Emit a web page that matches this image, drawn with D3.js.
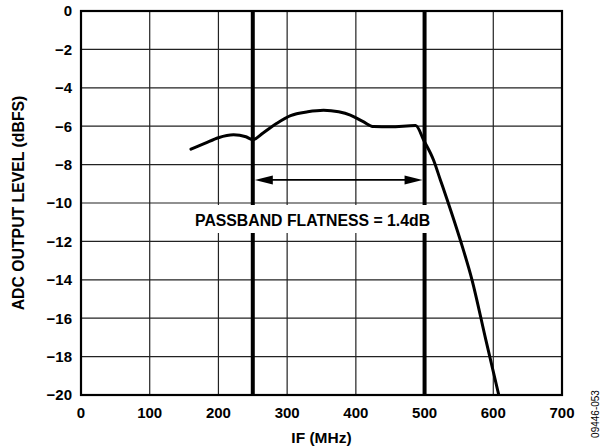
<!DOCTYPE html>
<html>
<head>
<meta charset="utf-8">
<script src="https://cdn.jsdelivr.net/npm/d3@7"></script>
<style>
  body { margin: 0; background: #fff; }
  text { font-family: Arial, "Liberation Sans", sans-serif; font-weight: bold; fill: #000; }
</style>
</head>
<body>
<script>
// Data
let freqMHz = [160, 180, 200, 222, 240, 250, 265, 285, 305, 330, 353, 375, 392, 410, 426, 450, 487, 499, 513, 523, 533, 552, 569, 589, 608];
let levelDBFS = [-7.2, -6.9, -6.6, -6.45, -6.55, -6.7, -6.35, -5.85, -5.45, -5.25, -5.17, -5.25, -5.42, -5.75, -6.02, -6.03, -5.97, -6.75, -7.76, -8.8, -9.84, -11.93, -14.0, -17.1, -20];
let xTicks = [0, 100, 200, 300, 400, 500, 600, 700];
let yTicks = [0, -2, -4, -6, -8, -10, -12, -14, -16, -18, -20];
let passbandEdges = [250, 500];
let arrowLevel = -8.8;
let flatnessLabel = "PASSBAND FLATNESS = 1.4dB";

let W = 600, H = 448;
let margin = {top: 11, right: 38, bottom: 53, left: 81};
let w = W - margin.left - margin.right;
let h = H - margin.top - margin.bottom;

let svg = d3.select('body').append('svg')
            .attr('width', W)
            .attr('height', H);

let g = svg.append('g').attr('transform', `translate(${margin.left},${margin.top})`);

let x = d3.scaleLinear().domain([0, 700]).range([0, w]);
let y = d3.scaleLinear().domain([-20, 0]).range([h, 0]);

// Grid
g.append('g').selectAll('line')
    .data(xTicks.slice(1, -1))
    .enter().append('line')
    .attr('x1', d => x(d)).attr('x2', d => x(d))
    .attr('y1', 0).attr('y2', h)
    .attr('stroke', '#222').attr('stroke-width', 1.2);

g.append('g').selectAll('line')
    .data(yTicks.slice(1, -1))
    .enter().append('line')
    .attr('x1', 0).attr('x2', w)
    .attr('y1', d => y(d)).attr('y2', d => y(d))
    .attr('stroke', '#222').attr('stroke-width', 1.2);

// Passband edges
g.append('g').selectAll('line')
    .data(passbandEdges)
    .enter().append('line')
    .attr('x1', d => x(d)).attr('x2', d => x(d))
    .attr('y1', 0).attr('y2', h)
    .attr('stroke', '#000').attr('stroke-width', 4);

// Curve
let line = d3.line()
    .x((d, i) => x(freqMHz[i]))
    .y(d => y(d))
    .curve(d3.curveMonotoneX);

g.append('clipPath').attr('id', 'clip')
    .append('rect').attr('width', w).attr('height', h);

g.append('path')
    .datum(levelDBFS)
    .attr('d', line)
    .attr('clip-path', 'url(#clip)')
    .attr('fill', 'none')
    .attr('stroke', '#000')
    .attr('stroke-width', 3)
    .attr('stroke-linejoin', 'round')
    .attr('stroke-linecap', 'round');

// Double arrow
let ax1 = x(passbandEdges[0]) + 2, ax2 = x(passbandEdges[1]) - 2, ay = y(arrowLevel);
g.append('line')
    .attr('x1', ax1 + 10).attr('x2', ax2 - 10)
    .attr('y1', ay).attr('y2', ay)
    .attr('stroke', '#000').attr('stroke-width', 1.8);
g.append('path')
    .attr('d', `M${ax1},${ay} L${ax1 + 18},${ay - 4.5} L${ax1 + 18},${ay + 4.5} Z`)
    .attr('fill', '#000');
g.append('path')
    .attr('d', `M${ax2},${ay} L${ax2 - 18},${ay - 4.5} L${ax2 - 18},${ay + 4.5} Z`)
    .attr('fill', '#000');

// Label with white backing (sits a little left of the passband centre)
let labelX = x(337);
let labelY = y(-11.2);
g.append('rect')
    .attr('x', labelX - 123).attr('y', y(-10) + 2)
    .attr('width', 246).attr('height', 28)
    .attr('fill', '#fff');
g.append('text')
    .attr('x', labelX).attr('y', labelY)
    .attr('text-anchor', 'middle')
    .attr('font-size', 15.8)
    .text(flatnessLabel);

// Frame
g.append('rect')
    .attr('width', w).attr('height', h)
    .attr('fill', 'none')
    .attr('stroke', '#000').attr('stroke-width', 2.2);

// Tick labels
g.append('g').selectAll('text')
    .data(xTicks)
    .enter().append('text')
    .attr('x', d => x(d)).attr('y', h + 23)
    .attr('text-anchor', 'middle')
    .attr('font-size', 15)
    .text(d => d);

g.append('g').selectAll('text')
    .data(yTicks)
    .enter().append('text')
    .attr('x', -9).attr('y', d => y(d))
    .attr('dy', '0.36em')
    .attr('text-anchor', 'end')
    .attr('font-size', 15)
    .text(d => d < 0 ? '\u2212' + Math.abs(d) : d);

// Axis titles
svg.append('text')
    .attr('x', margin.left + w / 2).attr('y', 443)
    .attr('text-anchor', 'middle')
    .attr('font-size', 15.5)
    .text('IF (MHz)');

svg.append('text')
    .attr('transform', `translate(24,${margin.top + h / 2}) rotate(-90)`)
    .attr('text-anchor', 'middle')
    .attr('font-size', 15.8)
    .text('ADC OUTPUT LEVEL (dBFS)');

svg.append('text')
    .attr('transform', `translate(599,414) rotate(-90)`)
    .attr('text-anchor', 'middle')
    .attr('font-size', 10)
    .style('font-weight', 'normal')
    .attr('fill', '#333')
    .text('09446-053');
</script>
</body>
</html>
